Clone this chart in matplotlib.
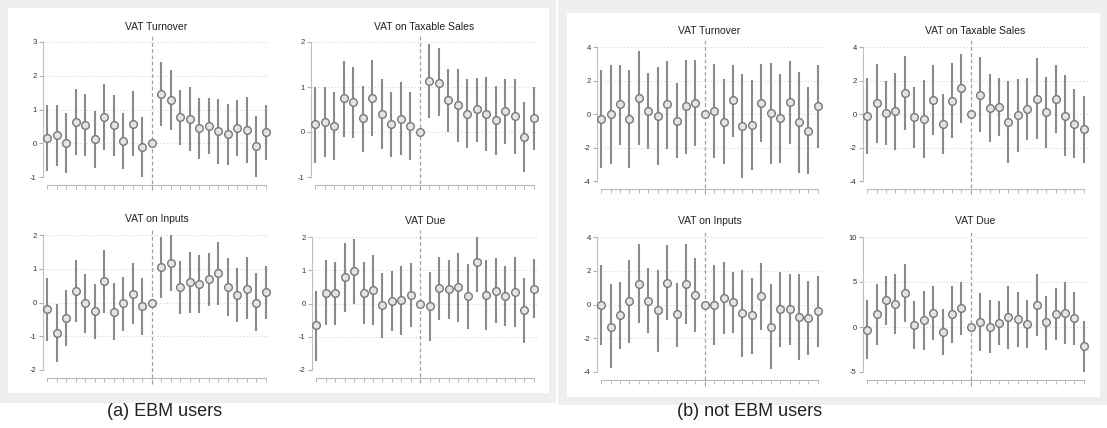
import matplotlib
matplotlib.use('Agg')
import matplotlib.pyplot as plt
from matplotlib.patches import Rectangle

plt.rcParams['font.family'] = ['Liberation Sans', 'DejaVu Sans']

W, H = 1107, 428

# event time index 0..23, reference period at index 11
periods = list(range(24))
ref_period = 11

# (a) EBM users
ebm_turnover = [0.17, 0.25, 0.0, 0.64, 0.55, 0.12, 0.79, 0.53, 0.08, 0.58, -0.10, 0.0,
                1.46, 1.27, 0.77, 0.73, 0.45, 0.51, 0.35, 0.27, 0.45, 0.39, -0.09, 0.33]
ebm_turnover_lo = [-0.81, -0.66, -0.89, -0.34, -0.37, -0.74, -0.19, -0.39, -0.77, -0.38, -1.01, 0.0,
                   0.51, 0.38, -0.05, -0.24, -0.46, -0.32, -0.61, -0.64, -0.38, -0.58, -0.99, -0.51]
ebm_turnover_hi = [1.14, 1.14, 0.89, 1.61, 1.46, 0.97, 1.76, 1.43, 0.91, 1.54, 0.77, 0.0,
                   2.40, 2.16, 1.58, 1.68, 1.34, 1.34, 1.32, 1.16, 1.29, 1.36, 0.82, 1.14]

ebm_sales = [0.17, 0.22, 0.13, 0.75, 0.66, 0.31, 0.76, 0.40, 0.17, 0.30, 0.13, 0.0,
             1.14, 1.10, 0.72, 0.60, 0.40, 0.51, 0.40, 0.27, 0.47, 0.35, -0.10, 0.31]
ebm_sales_lo = [-0.69, -0.56, -0.63, -0.10, -0.13, -0.44, -0.08, -0.37, -0.55, -0.51, -0.63, 0.0,
                0.32, 0.35, 0.0, -0.23, -0.35, -0.22, -0.43, -0.51, -0.26, -0.48, -0.89, -0.39]
ebm_sales_hi = [1.0, 1.0, 0.88, 1.57, 1.44, 1.02, 1.59, 1.17, 0.88, 1.12, 0.88, 0.0,
                1.96, 1.87, 1.40, 1.40, 1.17, 1.20, 1.22, 1.03, 1.18, 1.18, 0.66, 1.01]

ebm_inputs = [-0.20, -0.89, -0.45, 0.33, -0.02, -0.25, 0.63, -0.27, -0.02, 0.26, -0.11, 0.0,
              1.05, 1.18, 0.45, 0.62, 0.54, 0.69, 0.87, 0.47, 0.22, 0.41, 0.0, 0.30]
ebm_inputs_lo = [-1.14, -1.75, -1.29, -0.59, -0.89, -1.08, -0.31, -1.12, -0.83, -0.65, -0.97, 0.0,
                 0.12, 0.33, -0.35, -0.30, -0.32, -0.10, -0.06, -0.40, -0.58, -0.50, -0.85, -0.49]
ebm_inputs_hi = [0.72, -0.04, 0.38, 1.26, 0.84, 0.55, 1.55, 0.58, 0.77, 1.18, 0.72, 0.0,
                 1.95, 2.02, 1.24, 1.50, 1.40, 1.47, 1.80, 1.33, 1.02, 1.34, 0.88, 1.07]

ebm_due = [-0.66, 0.33, 0.32, 0.80, 0.98, 0.32, 0.41, -0.05, 0.09, 0.10, 0.26, 0.0,
           -0.09, 0.47, 0.43, 0.49, 0.22, 1.26, 0.26, 0.39, 0.24, 0.35, -0.19, 0.45]
ebm_due_lo = [-1.72, -0.65, -0.65, -0.27, -0.03, -0.63, -0.65, -1.04, -0.82, -0.94, -0.70, 0.0,
              -1.13, -0.50, -0.47, -0.55, -0.76, 0.35, -0.79, -0.60, -0.68, -0.70, -1.18, -0.45]
ebm_due_hi = [0.37, 1.31, 1.26, 1.83, 1.95, 1.24, 1.46, 0.93, 0.99, 1.12, 1.22, 0.0,
              0.95, 1.41, 1.32, 1.52, 1.19, 2.15, 1.31, 1.37, 1.13, 1.40, 0.78, 1.34]

# (b) not EBM users
non_turnover = [-0.30, -0.02, 0.57, -0.30, 0.97, 0.20, -0.10, 0.57, -0.40, 0.45, 0.67, 0.0,
                0.20, -0.45, 0.82, -0.70, -0.63, 0.67, 0.05, -0.25, 0.70, -0.48, -1.0, 0.48]
non_turnover_lo = [-3.2, -3.0, -1.83, -3.22, -1.83, -2.1, -3.02, -2.1, -2.65, -2.37, -1.93, 0.0,
                   -2.62, -3.0, -1.35, -3.8, -3.35, -1.7, -3.0, -2.92, -1.82, -3.5, -3.6, -2.05]
non_turnover_hi = [2.6, 2.9, 2.93, 2.6, 3.75, 2.45, 2.78, 3.15, 1.85, 3.25, 3.25, 0.0,
                   3.0, 2.1, 2.95, 2.37, 2.05, 3.0, 3.05, 2.38, 3.18, 2.52, 1.6, 2.93]

non_sales = [-0.12, 0.63, 0.05, 0.20, 1.27, -0.17, -0.28, 0.85, -0.60, 0.80, 1.53, 0.0,
             1.15, 0.33, 0.40, -0.45, -0.07, 0.30, 0.92, 0.10, 0.88, -0.12, -0.57, -0.92]
non_sales_lo = [-2.4, -1.75, -1.85, -2.15, -0.97, -2.05, -2.62, -1.25, -2.4, -1.45, -0.52, 0.0,
                -1.1, -1.7, -1.3, -2.9, -2.25, -1.57, -1.5, -2.05, -1.12, -2.52, -2.62, -2.9]
non_sales_hi = [2.13, 2.97, 1.95, 2.47, 3.47, 1.62, 2.02, 2.93, 1.17, 3.03, 3.57, 0.0,
                3.4, 2.37, 2.12, 1.98, 2.07, 2.15, 3.32, 2.2, 2.9, 2.3, 1.5, 1.05]

non_inputs = [0.0, -1.32, -0.65, 0.20, 1.23, 0.23, -0.35, 1.30, -0.58, 1.23, 0.57, 0.0,
              -0.02, 0.37, 0.12, -0.50, -0.65, 0.48, -1.35, -0.27, -0.27, -0.73, -0.80, -0.40]
non_inputs_lo = [-2.4, -3.75, -2.65, -2.27, -1.12, -1.7, -2.83, -0.92, -2.5, -1.15, -1.6, 0.0,
                 -2.4, -1.77, -1.7, -3.1, -2.92, -1.5, -3.83, -2.5, -2.4, -3.27, -3.0, -2.5]
non_inputs_hi = [2.37, 1.2, 1.33, 2.62, 3.57, 2.15, 2.05, 3.5, 1.27, 3.57, 2.73, 0.0,
                 2.33, 2.5, 1.92, 2.05, 1.6, 2.43, 1.2, 1.9, 1.8, 1.8, 1.37, 1.67]

non_due = [-0.3, 1.4, 3.0, 2.6, 3.8, 0.2, 0.8, 1.6, -0.5, 1.4, 2.1, 0.0,
           0.6, 0.05, 0.5, 1.1, 0.85, 0.35, 2.45, 0.55, 1.45, 1.55, 1.0, -2.15]
non_due_lo = [-3.55, -2.0, 0.25, -0.8, 0.6, -2.4, -2.55, -1.4, -3.1, -1.8, -0.9, 0.0,
              -2.7, -2.85, -1.95, -2.45, -2.25, -2.35, -1.05, -2.5, -1.45, -1.9, -2.05, -4.95]
non_due_hi = [3.0, 4.75, 5.7, 5.85, 6.95, 2.85, 4.05, 4.6, 2.05, 4.55, 4.95, 0.0,
              3.8, 2.95, 2.9, 4.6, 3.85, 2.95, 5.85, 3.5, 4.3, 4.95, 3.9, 0.65]

panels = [
    ('VAT Turnover', ebm_turnover, ebm_turnover_lo, ebm_turnover_hi, [-1, 0, 1, 2, 3], (43, 42, 270, 177)),
    ('VAT on Taxable Sales', ebm_sales, ebm_sales_lo, ebm_sales_hi, [-1, 0, 1, 2], (311, 42, 538, 177)),
    ('VAT on Inputs', ebm_inputs, ebm_inputs_lo, ebm_inputs_hi, [-2, -1, 0, 1, 2], (43, 235, 270, 370)),
    ('VAT Due', ebm_due, ebm_due_lo, ebm_due_hi, [-2, -1, 0, 1, 2], (312, 237, 538, 370)),
    ('VAT Turnover', non_turnover, non_turnover_lo, non_turnover_hi, [-4, -2, 0, 2, 4], (597, 47, 822, 181)),
    ('VAT on Taxable Sales', non_sales, non_sales_lo, non_sales_hi, [-4, -2, 0, 2, 4], (863, 47, 1088, 181)),
    ('VAT on Inputs', non_inputs, non_inputs_lo, non_inputs_hi, [-4, -2, 0, 2, 4], (597, 237, 822, 372)),
    ('VAT Due', non_due, non_due_lo, non_due_hi, [-5, 0, 5, 10], (863, 237, 1088, 372)),
]


def px_rect(x0, y0, x1, y1):
    return [x0 / W, 1 - y1 / H, (x1 - x0) / W, (y1 - y0) / H]


fig = plt.figure(figsize=(W / 100, H / 100), dpi=100)
fig.patch.set_facecolor('white')

# grey frames with white inner panels
for (gx0, gy0, gx1, gy1), (wx0, wy0, wx1, wy1) in [((0, 0, 556, 403), (8, 8, 549, 393)),
                                                   ((558, 0, 1107, 405), (567, 13, 1100, 397))]:
    fig.patches.append(Rectangle((gx0 / W, 1 - gy1 / H), (gx1 - gx0) / W, (gy1 - gy0) / H,
                                 transform=fig.transFigure, facecolor='#efefef', edgecolor='none', zorder=-2))
    fig.patches.append(Rectangle((wx0 / W, 1 - wy1 / H), (wx1 - wx0) / W, (wy1 - wy0) / H,
                                 transform=fig.transFigure, facecolor='white', edgecolor='none', zorder=-1))

for title, est, lo, hi, yticks, box in panels:
    ax = fig.add_axes(px_rect(*box))
    ax.patch.set_alpha(0)
    for i in periods:
        if i != ref_period:
            ax.plot([i, i], [lo[i], hi[i]], color='#8a8a8a', lw=1.5, solid_capstyle='butt', zorder=2)
    ax.plot(periods, est, linestyle='none', marker='o', ms=5.5, mfc='#e4e4e4', mec='#777777',
            mew=1.0, zorder=3)
    ax.axvline(ref_period, ymin=-0.1, ymax=1.05, color='#a0a0a0', ls=(0, (3, 2)), lw=0.9,
               clip_on=False, zorder=1)

    ax.set_xlim(-0.45, 23.45)
    ax.set_ylim(yticks[0], yticks[-1])
    ax.set_yticks(yticks)
    ax.set_yticklabels([str(t) for t in yticks])
    ax.set_xticks(periods)
    ax.set_xticklabels([])
    ax.yaxis.grid(True, linestyle=(0, (1, 2)), color='#d6d6d6', lw=0.8)
    ax.set_axisbelow(True)

    for side in ['top', 'right']:
        ax.spines[side].set_visible(False)
    ax.spines['left'].set_color('#c0c0c0')
    ax.spines['bottom'].set_color('#b8b8b8')
    ax.spines['bottom'].set_position(('outward', 6))
    ax.spines['bottom'].set_bounds(0, 23)
    ax.tick_params(axis='y', length=3, width=0.8, color='#b0b0b0', labelsize=5.5,
                   labelcolor='#333333', pad=1.5)
    ax.tick_params(axis='x', length=3, width=0.6, color='#b0b0b0')
    ax.set_title(title, fontsize=7.5, pad=9, color='#222222')

fig.text(165 / W, 1 - 412 / H, '(a) EBM users', ha='center', va='center', fontsize=13, color='#222222')
fig.text(750 / W, 1 - 412 / H, '(b) not EBM users', ha='center', va='center', fontsize=13, color='#222222')

plt.savefig('out.png', dpi=100)
